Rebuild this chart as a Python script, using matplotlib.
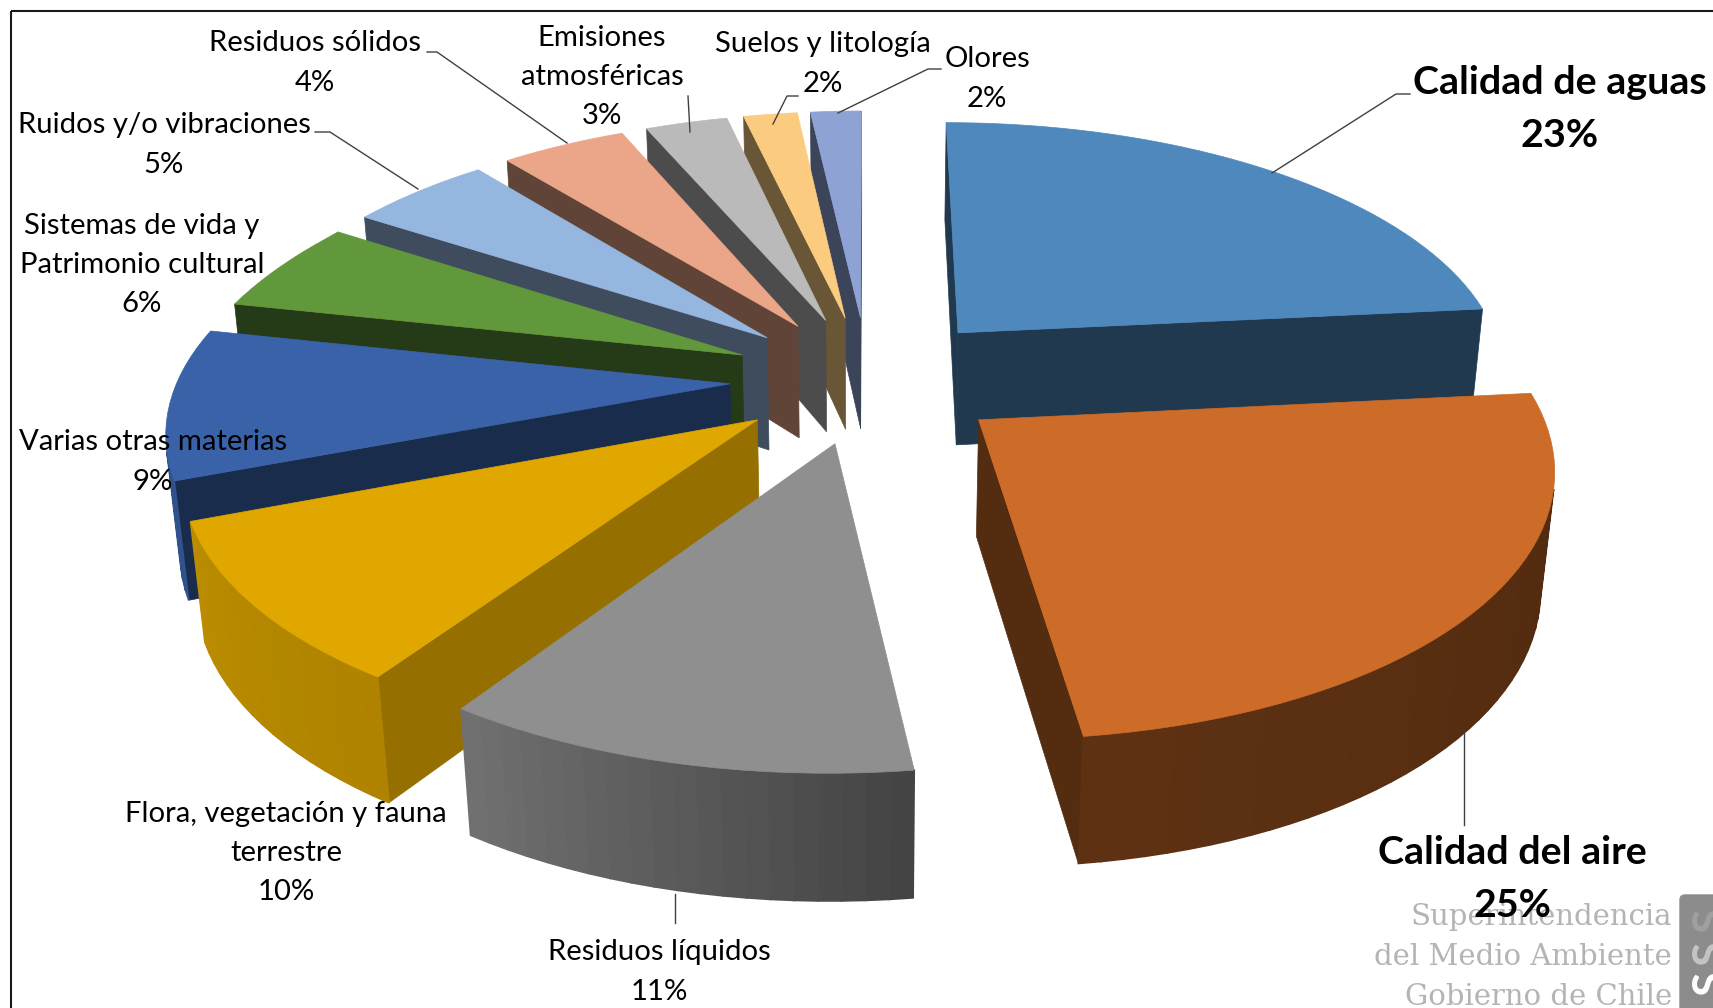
import numpy as np
import matplotlib
matplotlib.use('Agg')
import matplotlib.pyplot as plt
from matplotlib.patches import Polygon, FancyBboxPatch, Rectangle

plt.rcParams['font.family'] = ['Lato', 'DejaVu Sans']

# data, clockwise from the back of the pie (labels show the rounded value)
names = ['Calidad de aguas', 'Calidad del aire', 'Residuos líquidos',
         'Flora, vegetación y fauna\nterrestre', 'Varias otras materias',
         'Sistemas de vida y\nPatrimonio cultural', 'Ruidos y/o vibraciones',
         'Residuos sólidos', 'Emisiones\natmosféricas', 'Suelos y litología', 'Olores']
values = [23.4, 24.6, 11.4, 9.8, 9.2, 5.6, 5, 4.4, 2.9, 1.9, 1.8]

top_colors = ['#4F88BC', '#CD6B28', '#8F8F8F', '#DFA700', '#3A62A8', '#62983C',
              '#95B6DE', '#EBA589', '#BABABA', '#FBCC80', '#8FA2D4']
face_shade = [0.42, 0.41, 0.62, 0.67, 0.45, 0.38, 0.42, 0.41, 0.41, 0.42, 0.42]

# label centres and leader lines in image pixels
label_xy = [(1560, 109), (1512, 879), (659, 972), (286, 853), (153, 462),
            (142, 265), (164, 145), (315, 63), (602, 77), (823, 64), (987, 79)]
leaders = [[(1410, 94), (1396, 94), (1272, 173)],
           [(1464, 732), (1464, 825)],
           [(675, 894), (675, 923)],
           [], [],
           [], [(315, 132), (330, 132), (418, 189)],
           [(427, 52), (437, 52), (567, 143)],
           [(688, 96), (690, 132)],
           [(798, 96), (787, 96), (773, 124)],
           [(941, 69), (928, 69), (838, 113)]]

# projection of the tilted pie
cx, cy = 868, 379
rx, ry = 552, 256
persp = 0.155
explode = 0.25
height = 114.5
left_squeeze = 0.98


def project(u, v, d):
    s = 1 / (1 + persp * v + 0.02 * d)
    x = rx * u * s
    if u < 0:
        # back left of the pie reads a little narrower than the front
        x *= np.interp(v, [0.2, 0.6], [1.0, left_squeeze])
    return cx + x, cy - ry * v * s + height * d * (1 - 0.16 * v)


def shade(color, f):
    return tuple(c * f for c in matplotlib.colors.to_rgb(color))


def wall_shade(theta):
    return np.interp(theta, [80, 172, 212, 250, 360], [0.38, 0.46, 0.78, 0.84, 0.6])


def signed_area(pts):
    x, y = np.array(pts).T
    return np.sum(x * np.roll(y, -1) - np.roll(x, -1) * y)


fig = plt.figure(figsize=(17.13, 10.08), dpi=100)
ax = fig.add_axes([0, 0, 1, 1])
ax.set_xlim(0, 1713)
ax.set_ylim(1008, 0)
ax.axis('off')

ax.add_patch(Rectangle((10.5, 10.5), 1800, 1100, fill=False, ec='#1a1a1a', lw=1.5, zorder=0))

bounds = np.cumsum([0] + values) * 3.6
mid = (bounds[:-1] + bounds[1:]) / 2
order = np.argsort(-np.cos(np.radians(mid)))

z = 1
for i in order:
    t0, t1, color = bounds[i], bounds[i + 1], top_colors[i]
    au = explode * np.sin(np.radians(mid[i]))
    av = explode * np.cos(np.radians(mid[i]))
    thetas = np.linspace(t0, t1, max(int((t1 - t0) / 2), 4) + 1)
    us = au + np.sin(np.radians(thetas))
    vs = av + np.cos(np.radians(thetas))

    # radial faces
    for k, quad in enumerate([
        [project(au, av, 0), project(us[0], vs[0], 0), project(us[0], vs[0], 1), project(au, av, 1)],
        [project(us[-1], vs[-1], 0), project(au, av, 0), project(au, av, 1), project(us[-1], vs[-1], 1)],
    ]):
        if signed_area(quad) < 0:
            c = shade(color, face_shade[i])
            ax.add_patch(Polygon(quad, fc=c, ec=c, lw=0.5, zorder=z))
            z += 1

    # outer wall
    for j in range(len(thetas) - 1):
        quad = [project(us[j], vs[j], 0), project(us[j + 1], vs[j + 1], 0),
                project(us[j + 1], vs[j + 1], 1), project(us[j], vs[j], 1)]
        if signed_area(quad) < 0:
            c = shade(color, wall_shade((thetas[j] + thetas[j + 1]) / 2))
            ax.add_patch(Polygon(quad, fc=c, ec=c, lw=1.2, zorder=z))
            z += 1

    top = [project(au, av, 0)] + [project(a, b, 0) for a, b in zip(us, vs)]
    ax.add_patch(Polygon(top, fc=color, ec=color, lw=0.5, zorder=z))
    z += 1

# watermark sits under the labels
for txt, y in zip(['Superintendencia', 'del Medio Ambiente', 'Gobierno de Chile'], [925, 965, 1005]):
    ax.text(1672, y, txt, ha='right', va='baseline', fontsize=21, color='#b4b4b4',
            family='DejaVu Serif', zorder=z)
z += 1
ax.add_patch(FancyBboxPatch((1680, 895), 60, 140, boxstyle='round,pad=0,rounding_size=5',
                            fc='#8c8c8c', ec='#8c8c8c', zorder=z))
for y, c in zip([920, 953, 983], ['#a0a0a0', '#c4c4c4', '#ffffff']):
    ax.text(1711, y, 'S', rotation=90, ha='center', va='center', fontsize=32, fontweight='bold',
            color=c, zorder=z + 1, clip_on=True)
z += 2

for i, name in enumerate(names):
    bold = values[i] >= 20
    if leaders[i]:
        x, y = zip(*leaders[i])
        ax.plot(x, y, color='#404040', lw=1.0, zorder=z)
    ax.text(label_xy[i][0], label_xy[i][1], f'{name}\n{values[i]:.0f}%', ha='center', va='center',
            fontsize=28.4 if bold else 21.1, fontweight='bold' if bold else 'normal',
            color='black', linespacing=1.6 if bold else 1.63, zorder=z + 1)

fig.savefig('out.png', dpi=100)
